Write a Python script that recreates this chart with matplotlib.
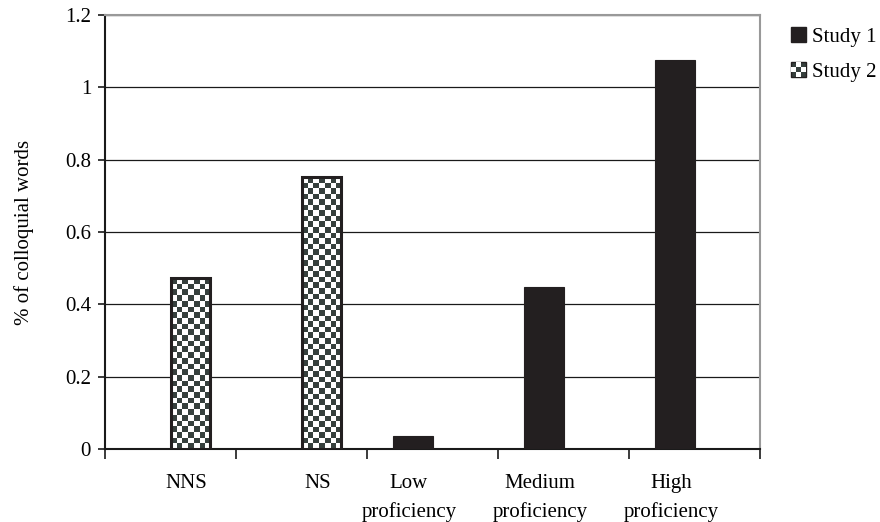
import numpy as np
import matplotlib
matplotlib.use("Agg")
import matplotlib.pyplot as plt
from matplotlib.patches import Rectangle
from matplotlib.legend_handler import HandlerBase
from matplotlib.ticker import FixedLocator

plt.rcParams['font.family'] = ['Liberation Serif', 'DejaVu Serif']

# Daten
categories = ["NNS", "NS", "Low\nproficiency", "Medium\nproficiency", "High\nproficiency"]
study1 = [np.nan, np.nan, 0.035, 0.448, 1.075]
study2 = [0.472, 0.752, np.nan, np.nan, np.nan]

dark = "#231f20"
checker_col = "#36403d"
bar_w = 0.3
fs = 15

fig = plt.figure(figsize=(8.8, 5.22), dpi=100)
ax = fig.add_axes([105 / 880, 73 / 522, 655 / 880, 434 / 522])

x = np.arange(len(categories))

# Study 1: links der Kategoriemitte, schwarz gefuellt
b1 = ax.bar(x, study1, width=-bar_w, align="edge", color=dark,
            edgecolor=dark, linewidth=0.8, zorder=3)
# Study 2: rechts der Kategoriemitte, Schachbrettmuster (nur Rand hier)
b2 = ax.bar(x, study2, width=bar_w, align="edge", facecolor="none",
            edgecolor=dark, linewidth=2.2, zorder=4)

ax.set_xlim(-0.5, len(categories) - 0.5)
ax.set_ylim(0, 1.2)

# Schachbrett in jeden Study-2-Balken legen
cmap = matplotlib.colors.ListedColormap(["white", checker_col])
px_per_x = ax.get_position().width * fig.get_figwidth() * fig.dpi / (len(categories))
px_per_y = ax.get_position().height * fig.get_figheight() * fig.dpi / 1.2
cell_px = 5.6
for rect, val in zip(b2.patches, study2):
    if np.isnan(val):
        continue
    x0 = rect.get_x()
    w = rect.get_width()
    h = rect.get_height()
    nx = max(1, int(round(w * px_per_x / cell_px)))
    ny = max(1, int(round(h * px_per_y / cell_px)))
    grid = (np.add.outer(np.arange(ny), np.arange(nx)) % 2).astype(float)
    im = ax.imshow(grid, cmap=cmap, extent=(x0, x0 + w, 0, h), origin="lower",
                   interpolation="nearest", aspect="auto", zorder=3.5)
    im.set_clip_path(rect)
ax.set_aspect("auto")
ax.set_xlim(-0.5, len(categories) - 0.5)
ax.set_ylim(0, 1.2)

# Gitterlinien
ax.set_yticks(np.arange(0, 1.21, 0.2))
ax.yaxis.set_major_formatter(matplotlib.ticker.FuncFormatter(lambda v, p: f"{v:g}"))
ax.grid(axis="y", color="#1a1a1a", linewidth=0.9, zorder=0)
ax.set_axisbelow(True)

# Rahmen
ax.spines["left"].set_color("#1a1a1a")
ax.spines["bottom"].set_color("#1a1a1a")
ax.spines["top"].set_color("#999999")
ax.spines["right"].set_color("#999999")
for s in ax.spines.values():
    s.set_linewidth(1.5)

# x-Achse: Striche an den Kategoriegrenzen, Beschriftung unter den Balken
ax.xaxis.set_major_locator(FixedLocator(np.arange(-0.5, len(categories), 1.0)))
ax.set_xticklabels([])
ax.tick_params(axis="x", which="major", length=7, width=1.2, color="#1a1a1a")
label_x = [x[i] + bar_w / 2 if not np.isnan(study2[i]) else x[i] - bar_w / 2
           for i in range(len(categories))]
label_x = [lx - 0.03 for lx in label_x]
ax.xaxis.set_minor_locator(FixedLocator(label_x))
ax.set_xticklabels(categories, minor=True)
ax.tick_params(axis="x", which="minor", length=0, pad=18, labelsize=fs)
for t in ax.xaxis.get_minorticklabels():
    t.set_linespacing(1.6)
    t.set_verticalalignment("top")

ax.tick_params(axis="y", length=5, width=1.2, color="#1a1a1a", labelsize=fs, pad=5)
ax.set_ylabel("% of colloquial words", fontsize=fs, labelpad=22)


class CheckerHandler(HandlerBase):
    def create_artists(self, legend, orig_handle, xdescent, ydescent,
                       width, height, fontsize, trans):
        s = height * 1.05
        x0 = -xdescent + width - s
        y0 = -ydescent + (height - s) / 2
        arts = [Rectangle((x0, y0), s, s, facecolor=checker_col,
                          edgecolor=dark, lw=1, transform=trans)]
        c = s / 3
        for i in range(3):
            for j in range(3):
                if (i + j) % 2 == 1:
                    arts.append(Rectangle((x0 + i * c, y0 + j * c), c, c,
                                          facecolor="white", edgecolor="none",
                                          transform=trans))
        return arts


class SquareHandler(HandlerBase):
    def create_artists(self, legend, orig_handle, xdescent, ydescent,
                       width, height, fontsize, trans):
        s = height * 1.05
        x0 = -xdescent + width - s
        y0 = -ydescent + (height - s) / 2
        return [Rectangle((x0, y0), s, s, facecolor=dark, edgecolor=dark,
                          transform=trans)]


h1 = Rectangle((0, 0), 1, 1)
h2 = Rectangle((0, 0), 1, 1)
fig.legend([h1, h2], ["Study 1", "Study 2"],
           handler_map={h1: SquareHandler(), h2: CheckerHandler()},
           loc="upper left", bbox_to_anchor=(782 / 880, 1 - 19 / 522),
           frameon=False, fontsize=fs, handlelength=0.75, handletextpad=0.3,
           labelspacing=0.75, borderaxespad=0)

fig.savefig("out.png", dpi=100)
